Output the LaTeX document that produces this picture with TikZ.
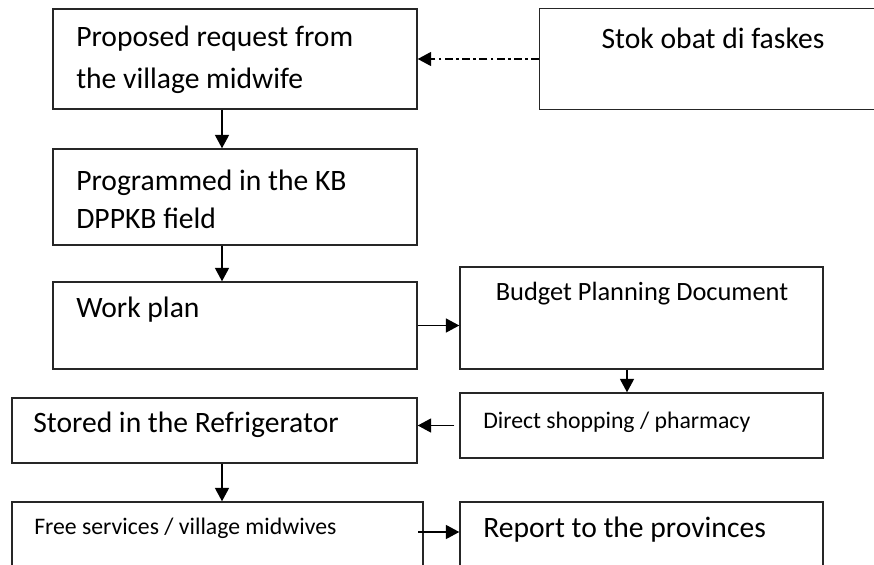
\documentclass[tikz,border=0pt]{standalone}
\usepackage{fontspec}
\setmainfont{Carlito}
\usetikzlibrary{arrows.meta}

\begin{document}
\begin{tikzpicture}[x=0.75pt,y=-0.75pt,
  box/.style={draw=black!85, line width=1.1pt, inner sep=0pt},
  lbl/.style={inner sep=0pt, anchor=west, align=left, font=\fontsize{22.2}{28.5}\selectfont},
  small/.style={lbl, font=\fontsize{17.8}{22}\selectfont},
  arr/.style={-{Triangle[length=10pt,width=10.5pt]}, line width=1pt}]
\useasboundingbox (0,0) rectangle (874,564);
\clip (0,0) rectangle (874,564);

\node[box, minimum width=273pt, minimum height=75pt] (propose) at (235,59) {};
\node[box, draw=none, minimum width=285pt, minimum height=75pt] (stok) at (730,59) {};
\draw[box] (stok.north east) -- (stok.north west) -- (stok.south west) -- (stok.south east);
\node[box, minimum width=273pt, minimum height=72pt] (program) at (235,197) {};
\node[box, minimum width=273pt, minimum height=65.25pt] (workplan) at (235,325.5) {};
\node[box, minimum width=272.25pt, minimum height=76.5pt] (budget) at (641.5,318) {};
\node[box, minimum width=272.25pt, minimum height=48.75pt] (direct) at (641.5,425.5) {};
\node[box, minimum width=303.75pt, minimum height=48.75pt] (stored) at (214.5,430.5) {};
\node[box, minimum width=308.25pt, minimum height=66pt] (free) at (217.5,546) {};
\node[box, minimum width=272.25pt, minimum height=66pt] (report) at (641.5,546) {};

\node[lbl, font=\fontsize{22.2}{31.5}\selectfont] (proposeT) at (76,60) {Proposed request from\\the village midwife};
\node[lbl, anchor=center] (stokT) at (713,38) {Stok obat di faskes};
\node[lbl] (programT) at (76,199) {Programmed in the KB\\DPPKB field};
\node[lbl] (workplanT) at (76,310) {Work plan};
\node[small, anchor=center, font=\fontsize{19.8}{24}\selectfont] (budgetT) at (642,294) {Budget Planning Document};
\node[small] (directT) at (483,422) {Direct shopping / pharmacy};
\node[lbl] (storedT) at (33,425) {Stored in the Refrigerator};
\node[small] (freeT) at (34,528) {Free services / village midwives};
\node[lbl] (reportT) at (483,530) {Report to the provinces};

\coordinate (spine) at (222,0);
\coordinate (drop) at (627,0);
\coordinate (freeout) at (418,532);

\draw[arr, dash pattern=on 6pt off 2.5pt on 2pt off 2.5pt] (stok.west) -- (propose.east);
\draw[arr] (propose.south -| spine) -- (program.north -| spine);
\draw[arr] (program.south -| spine) -- (workplan.north -| spine);
\draw[arr] (workplan.east) -- (workplan.east -| budget.west);
\draw[arr] (budget.south -| drop) -- (direct.north -| drop);
\draw[arr, shorten <=3.75pt] (direct.west) -- (direct.west -| stored.east);
\draw[arr] (stored.south -| spine) -- (free.north -| spine);
\draw[arr] (freeout) -- (freeout -| report.west);
\end{tikzpicture}
\end{document}
